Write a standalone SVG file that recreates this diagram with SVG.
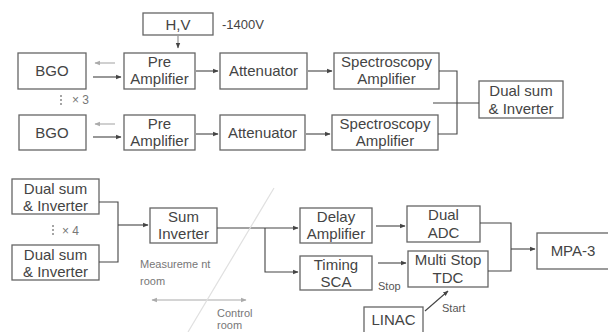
<svg xmlns="http://www.w3.org/2000/svg" width="608" height="332" viewBox="0 0 608 332">
<defs>
<style>
.box{fill:#fff;stroke:#666;stroke-width:1.3}
.t{font-family:"Liberation Sans",Arial,sans-serif;font-size:15px;fill:#444;text-anchor:middle}
.s{font-family:"Liberation Sans",Arial,sans-serif;font-size:11px;fill:#555}
.g{font-family:"Liberation Sans",Arial,sans-serif;font-size:11px;fill:#777}
.ln{fill:none;stroke:#444;stroke-width:1.1}
.gl{fill:none;stroke:#aaa;stroke-width:1.1}
</style>
<marker id="a" viewBox="0 0 10 10" refX="9" refY="5" markerWidth="5" markerHeight="5" orient="auto"><path d="M0,1 L10,5 L0,9 z" fill="#444"/></marker>
<marker id="ag" viewBox="0 0 10 10" refX="9" refY="5" markerWidth="5" markerHeight="5" orient="auto-start-reverse"><path d="M0,1 L10,5 L0,9 z" fill="#aaa"/></marker>
</defs>
<rect width="608" height="332" fill="#fff"/>

<g id="hv"><rect class="box" x="143" y="13" width="70" height="22"/><text class="t" x="178" y="30">H,V</text></g>
<text class="t" x="222" y="29" style="text-anchor:start;font-size:13px">-1400V</text>

<g id="bgo1"><rect class="box" x="18" y="53" width="68" height="36"/><text class="t" x="52" y="76">BGO</text></g>
<g id="bgo2"><rect class="box" x="19" y="115" width="67" height="35"/><text class="t" x="52" y="138">BGO</text></g>
<g id="pre1"><rect class="box" x="124" y="53" width="71" height="36"/><text class="t" x="159.5" y="67">Pre</text><text class="t" x="159.5" y="84">Amplifier</text></g>
<g id="pre2"><rect class="box" x="124" y="115" width="71" height="35"/><text class="t" x="159.5" y="129">Pre</text><text class="t" x="159.5" y="146">Amplifier</text></g>
<g id="att1"><rect class="box" x="220" y="53" width="87" height="36"/><text class="t" x="263.5" y="76">Attenuator</text></g>
<g id="att2"><rect class="box" x="220" y="115" width="85" height="35"/><text class="t" x="262.5" y="138">Attenuator</text></g>
<g id="spec1"><rect class="box" x="334" y="53" width="105" height="36"/><text class="t" x="386.5" y="67">Spectroscopy</text><text class="t" x="386.5" y="84">Amplifier</text></g>
<g id="spec2"><rect class="box" x="332" y="115" width="106" height="35"/><text class="t" x="385" y="129">Spectroscopy</text><text class="t" x="385" y="146">Amplifier</text></g>
<g id="dsum"><rect class="box" x="479" y="81" width="84" height="37"/><text class="t" x="521" y="96">Dual sum</text><text class="t" x="521" y="114">&amp; Inverter</text></g>

<g id="ds1"><rect class="box" x="12" y="179" width="87" height="35"/><text class="t" x="55.5" y="194">Dual sum</text><text class="t" x="55.5" y="211">&amp; Inverter</text></g>
<g id="ds2"><rect class="box" x="12" y="245" width="87" height="35"/><text class="t" x="55.5" y="260">Dual sum</text><text class="t" x="55.5" y="277">&amp; Inverter</text></g>
<g id="suminv"><rect class="box" x="150" y="208" width="67" height="35"/><text class="t" x="183.5" y="222">Sum</text><text class="t" x="183.5" y="239">Inverter</text></g>
<g id="delay"><rect class="box" x="300" y="208" width="72" height="35"/><text class="t" x="336" y="222">Delay</text><text class="t" x="336" y="239">Amplifier</text></g>
<g id="timing"><rect class="box" x="300" y="256" width="72" height="34"/><text class="t" x="336" y="270">Timing</text><text class="t" x="336" y="287">SCA</text></g>
<g id="adc"><rect class="box" x="407" y="206" width="73" height="36"/><text class="t" x="443.5" y="220">Dual</text><text class="t" x="443.5" y="238">ADC</text></g>
<g id="tdc"><rect class="box" x="408" y="251" width="80" height="36"/><text class="t" x="448" y="265">Multi Stop</text><text class="t" x="448" y="283">TDC</text></g>
<g id="mpa"><rect class="box" x="537" y="233" width="72" height="36"/><text class="t" x="573" y="256">MPA-3</text></g>
<g id="linac"><rect class="box" x="364" y="307" width="59" height="27"/><text class="t" x="393.5" y="325">LINAC</text></g>

<g id="connectors">
<line class="ln" x1="178" y1="36" x2="178" y2="48" marker-end="url(#a)" style="stroke:#888"/>
<line class="gl" x1="115" y1="63" x2="95" y2="63" marker-end="url(#ag)"/>
<line class="ln" x1="93" y1="77" x2="121" y2="77" marker-end="url(#a)"/>
<line class="gl" x1="115" y1="124" x2="95" y2="124" marker-end="url(#ag)"/>
<line class="ln" x1="93" y1="137" x2="121" y2="137" marker-end="url(#a)"/>
<line class="ln" x1="196" y1="71" x2="218" y2="71" marker-end="url(#a)"/>
<line class="ln" x1="196" y1="134" x2="218" y2="134" marker-end="url(#a)"/>
<line class="ln" x1="308" y1="71" x2="332" y2="71" marker-end="url(#a)"/>
<line class="ln" x1="306" y1="134" x2="330" y2="134" marker-end="url(#a)"/>
<polyline class="ln" points="439,71 457,71 457,134 438,134"/>
<line class="ln" x1="433" y1="103" x2="479" y2="103"/>

<polyline class="ln" points="99,202 118,202 118,262 99,262"/>
<line class="ln" x1="118" y1="225" x2="148" y2="225" marker-end="url(#a)"/>
<line class="ln" x1="217" y1="228" x2="298" y2="228" marker-end="url(#a)"/>
<polyline class="ln" points="265,228 265,272 298,272" marker-end="url(#a)"/>
<line class="ln" x1="376" y1="226" x2="405" y2="226" marker-end="url(#a)"/>
<line class="ln" x1="378" y1="263" x2="406" y2="263" marker-end="url(#a)"/>
<polyline class="ln" points="480,223 511,223 511,271 488,271"/>
<line class="ln" x1="511" y1="249" x2="535" y2="249" marker-end="url(#a)"/>
<line class="ln" x1="425" y1="311" x2="448" y2="291" marker-end="url(#a)"/>

<line class="gl" x1="152" y1="300" x2="246" y2="300" marker-start="url(#ag)" marker-end="url(#ag)"/>
<line x1="274" y1="188" x2="188" y2="332" stroke="#e0e0e0" stroke-width="1.2"/>
</g>

<g id="mult3"><line x1="61" y1="95" x2="61" y2="107" stroke="#888" stroke-width="1.5" stroke-dasharray="2,2"/><text class="s" x="72" y="104" style="fill:#777;font-size:12px">× 3</text></g>
<g id="mult4"><line x1="53" y1="225" x2="53" y2="237" stroke="#888" stroke-width="1.5" stroke-dasharray="2,2"/><text class="s" x="62" y="235" style="fill:#777;font-size:12px">× 4</text></g>

<text class="s" x="378" y="290">Stop</text>
<text class="s" x="442" y="312">Start</text>
<text class="g" x="140" y="268">Measureme nt</text>
<text class="g" x="140" y="285">room</text>
<text class="g" x="217" y="317">Control</text>
<text class="g" x="217" y="329">room</text>
</svg>
